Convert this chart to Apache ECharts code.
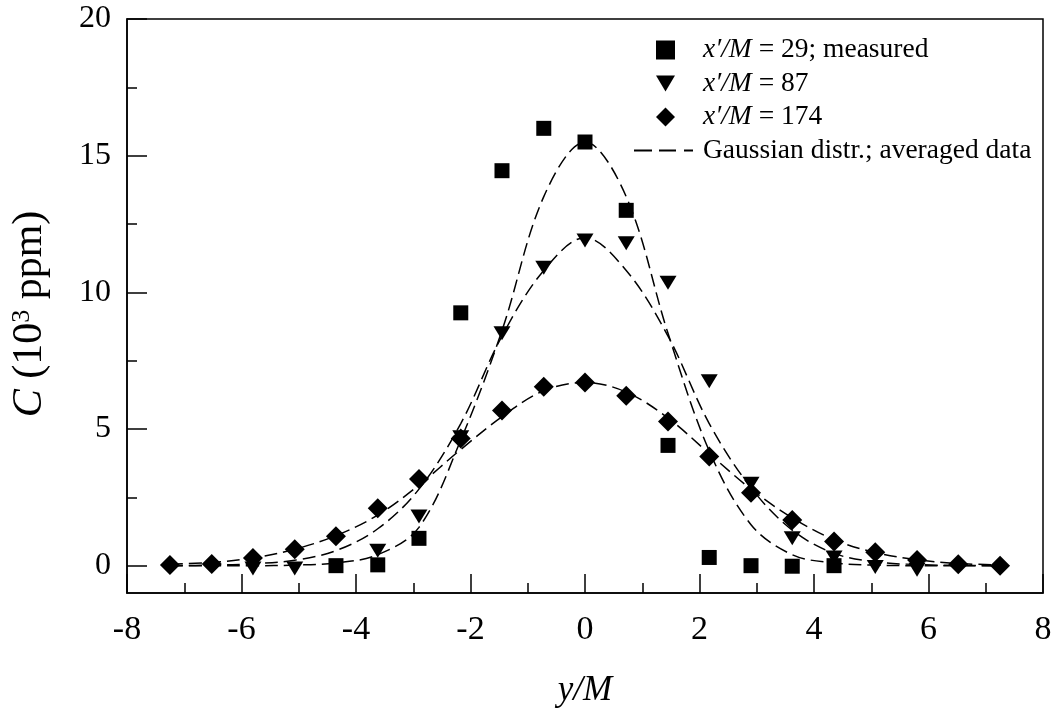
<!DOCTYPE html>
<html>
<head>
<meta charset="utf-8">
<script src="https://cdn.jsdelivr.net/npm/echarts@6/dist/echarts.min.js"></script>
<style>
  html, body { margin: 0; padding: 0; background: #fff; }
  #chart { width: 1055px; height: 711px; }
</style>
</head>
<body>
<div id="chart"></div>
<script>
// Lateral positions y/M of the measurement stations
const yOverM = [-7.25, -6.52, -5.8, -5.07, -4.35, -3.62, -2.9, -2.17, -1.45, -0.72, 0,
                0.72, 1.45, 2.17, 2.9, 3.62, 4.35, 5.07, 5.8, 6.52, 7.25];

// Measured concentrations C (10^3 ppm); null = no sample at that station
const c29  = [null, null, null, null, 0.0, 0.03, 1.0, 9.25, 14.45, 16.0, 15.5,
              13.0, 4.4, 0.3, 0.0, -0.02, 0.0, null, null, null, null];
const c87  = [null, null, -0.1, -0.1, null, 0.55, 1.8, 4.7, 8.5, 10.9, 11.9,
              11.8, 10.35, 6.75, 3.0, 1.0, 0.3, -0.05, -0.15, null, null];
const c174 = [0.02, 0.06, 0.28, 0.6, 1.08, 2.1, 3.17, 4.65, 5.68, 6.55, 6.7,
              6.22, 5.27, 3.99, 2.67, 1.67, 0.88, 0.49, 0.21, 0.05, 0.0];

// Gaussian profiles fitted to the averaged data
const fit29  = [0.0, 0.0, 0.0, 0.02, 0.1, 0.4, 1.4, 4.6, 8.6, 13.5, 15.5,
                13.5, 8.5, 4.2, 1.5, 0.4, 0.1, 0.02, 0.0, 0.0, 0.0];
const fit87  = [0.0, 0.02, 0.07, 0.2, 0.55, 1.35, 2.8, 5.2, 8.4, 10.8, 12.0,
                10.8, 8.4, 5.2, 2.85, 1.3, 0.45, 0.14, 0.04, 0.01, 0.0];
const fit174 = [0.05, 0.12, 0.28, 0.6, 1.1, 1.85, 2.95, 4.25, 5.45, 6.4, 6.7,
                6.35, 5.4, 4.1, 2.8, 1.75, 0.95, 0.48, 0.22, 0.08, 0.03];

// Axis ticks
const xTicks = [-8, -6, -4, -2, 0, 2, 4, 6, 8];
const yTicks = [0, 5, 10, 15, 20];
const yMinorTicks = [2.5, 7.5, 12.5, 17.5];

const names = {
  s29: 'x′/M = 29; measured',
  s87: 'x′/M = 87',
  s174: 'x′/M = 174',
  fit: 'Gaussian distr.; averaged data'
};

function pairs(vals) {
  const out = [];
  vals.forEach((v, i) => { if (v !== null) out.push([yOverM[i], v]); });
  return out;
}

const serif = 'Liberation Serif';
const black = '#000';
const legendFont = 27.5;
const rowStep = 33.5;
const legendTop = 31;

const chart = echarts.init(document.getElementById('chart'), null, { renderer: 'canvas' });

const fitLine = (vals, withName) => ({
  name: withName ? names.fit : undefined,
  type: 'line',
  data: pairs(vals),
  smooth: 0.35,
  showSymbol: false,
  symbol: 'none',
  silent: true,
  z: 1,
  lineStyle: { color: black, width: 1.5, type: [13, 6] },
  itemStyle: { color: black }
});

const legendText = (padLeft) => ({
  fontFamily: serif, fontSize: legendFont, color: black, lineHeight: 28,
  padding: [0, 0, 0, padLeft],
  rich: { i: { fontFamily: serif, fontSize: legendFont, fontStyle: 'italic', color: black, lineHeight: 28 } }
});
const legendFormatter = (n) => n.replace('x′/M', '{i|x′/M}');

const option = {
  animation: false,
  backgroundColor: '#fff',
  grid: {
    left: 127, right: 12, top: 19, bottom: 118,
    outerBoundsMode: 'none', containLabel: false,
    show: true, borderColor: black, borderWidth: 1.5, backgroundColor: 'transparent'
  },
  legend: [{
    orient: 'vertical',
    left: 651, top: legendTop,
    itemWidth: 19, itemHeight: 19, itemGap: rowStep - 28,
    data: [
      { name: names.s29, icon: 'path://M1.5,1.5 L17.5,1.5 L17.5,17.5 L1.5,17.5 Z' },
      { name: names.s87, icon: 'path://M0,2 L19,2 L9.5,18 Z' },
      { name: names.s174, icon: 'path://M9.5,0 L19,9.5 L9.5,19 L0,9.5 Z' }
    ],
    formatter: legendFormatter,
    textStyle: legendText(23)
  }, {
    orient: 'vertical',
    left: 629, top: legendTop + 3 * rowStep,
    itemWidth: 59, itemHeight: 2,
    data: [{ name: names.fit, icon: 'path://M0,0h18v2H0z M25,0h17v2H25z M50,0h9v2H50z' }],
    formatter: legendFormatter,
    textStyle: legendText(5)
  }],
  xAxis: {
    type: 'value', min: xTicks[0], max: xTicks[xTicks.length - 1], interval: 2,
    axisLine: { onZero: false, lineStyle: { color: black, width: 1.5 } },
    axisTick: { inside: true, length: 19, lineStyle: { color: black, width: 1.5 } },
    minorTick: { show: true, splitNumber: 2, length: 10, lineStyle: { color: black, width: 1.5 } },
    splitLine: { show: false },
    axisLabel: { fontFamily: serif, fontSize: 34, color: black, margin: 20 },
    name: 'y/M', nameLocation: 'middle', nameGap: 80,
    nameTextStyle: { fontFamily: serif, fontSize: 35, fontStyle: 'italic', color: black }
  },
  yAxis: [{
    type: 'value', min: -1, max: 20,
    axisLine: { onZero: false, lineStyle: { color: black, width: 1.5 } },
    axisTick: { inside: true, length: 20, customValues: yTicks, lineStyle: { color: black, width: 1.5 } },
    axisLabel: { fontFamily: serif, fontSize: 32, color: black, margin: 16, customValues: yTicks },
    splitLine: { show: false },
    name: '{i|C} (10{sup|3} ppm)', nameLocation: 'middle', nameGap: 76, nameRotate: 90,
    nameTextStyle: {
      fontFamily: serif, fontSize: 42, color: black, padding: [0, 16, 0, 0],
      rich: {
        i: { fontFamily: serif, fontSize: 42, fontStyle: 'italic', color: black },
        sup: { fontFamily: serif, fontSize: 26, color: black, verticalAlign: 'top', padding: [0, 0, 16, 0] }
      }
    }
  }, {
    type: 'value', min: -1, max: 20, position: 'left',
    axisLine: { show: false, onZero: false },
    axisTick: { show: true, inside: true, length: 10, customValues: yMinorTicks, lineStyle: { color: black, width: 1.5 } },
    axisLabel: { show: false, customValues: yMinorTicks },
    splitLine: { show: false }
  }],
  series: [
    fitLine(fit29, true),
    fitLine(fit87, false),
    fitLine(fit174, false),
    {
      name: names.s29, type: 'scatter', data: pairs(c29),
      symbol: 'rect', symbolSize: 15, z: 3,
      itemStyle: { color: black, opacity: 1 }
    },
    {
      name: names.s87, type: 'scatter', data: pairs(c87),
      symbol: 'triangle', symbolRotate: 180, symbolSize: [17, 14], z: 3,
      itemStyle: { color: black, opacity: 1 }
    },
    {
      name: names.s174, type: 'scatter', data: pairs(c174),
      symbol: 'diamond', symbolSize: [20, 20], z: 3,
      itemStyle: { color: black, opacity: 1 }
    }
  ]
};

chart.setOption(option);
</script>
</body>
</html>
